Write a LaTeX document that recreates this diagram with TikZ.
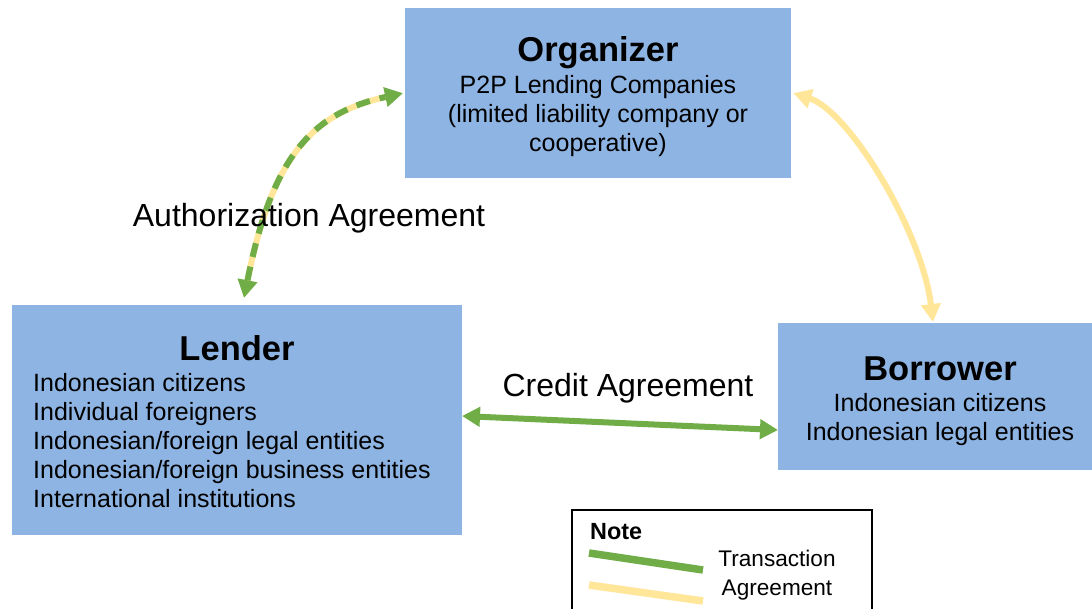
\documentclass[tikz,border=0pt]{standalone}
\usepackage{fontspec}
\setmainfont{Liberation Sans}
\usetikzlibrary{arrows.meta,calc}
\definecolor{boxblue}{HTML}{8EB4E3}
\definecolor{agreen}{HTML}{70AD47}
\definecolor{ayellow}{HTML}{FFE699}
\tikzset{
  gtip/.tip={Triangle[length=18pt,width=19pt,color=agreen]},
  ytip/.tip={Triangle[length=18pt,width=19pt,color=ayellow]}}
\begin{document}
\begin{tikzpicture}[x=1pt,y=-1pt,
  party/.style={fill=boxblue,inner sep=0pt,anchor=north west},
  title/.style={font=\bfseries\fontsize{34.5}{40}\selectfont,inner sep=0pt},
  body/.style={font=\fontsize{25}{29}\selectfont,inner sep=0pt},
  label/.style={font=\fontsize{32}{38}\selectfont,inner sep=0pt},
  link/.style={line width=6pt},
  legendline/.style={line width=7.5pt}]
\useasboundingbox (0,0) rectangle (1092,609);
\fill[white] (0,0) rectangle (1092,609);

% parties
\node[party,minimum width=386pt,minimum height=170pt] (org) at (405,8) {};
\node[party,minimum width=450pt,minimum height=230pt] (lender) at (12,305) {};
\node[party,minimum width=320pt,minimum height=147pt] (borrower) at (778,323) {};

\node[title] (orgT) at (598,53) {Organizer};
\node[body,align=center] (orgB) at (598,116) {P2P Lending Companies\\(limited liability company or\\cooperative)};

\node[title] (lenT) at (237,348) {Lender};
\node[body,align=left,anchor=west] (lenB) at (33,441) {Indonesian citizens\\Individual foreigners\\Indonesian/foreign legal entities\\Indonesian/foreign business entities\\International institutions};

\node[title] (borT) at (940,369) {Borrower};
\node[body,align=center] (borB) at (940,420) {Indonesian citizens\\Indonesian legal entities};

% connector end points on the box edges
\coordinate (authL) at ($(lender.north west)+(232,-7)$);
\coordinate (authO) at ($(org.west)+(-2,0)$);
\coordinate (agrO) at ($(org.east)+(2,0)$);
\coordinate (agrB) at ($(borrower.north west)+(155,-1)$);
\coordinate (credL) at ($(lender.north west)+(450,111)$);
\coordinate (credB) at ($(borrower.north west)+(0,107)$);

% authorization agreement: yellow base with green dashes
\draw[link,ayellow,gtip-gtip]
  (authL) .. controls (272,157) and (312,113) .. (authO);
\draw[link,agreen,dash pattern=on 14pt off 10pt,shorten <=18pt,shorten >=18pt]
  (authL) .. controls (272,157) and (312,113) .. (authO);
\node[label] (authLbl) at (309,218) {Authorization Agreement};

% organizer -- borrower agreement
\draw[link,ayellow,ytip-ytip]
  (agrO) .. controls (849,111) and (922,231) .. (agrB);

% credit agreement
\draw[link,agreen,gtip-gtip] (credL) -- (credB);
\node[label] (credLbl) at (628,388) {Credit Agreement};

% legend
\draw[line width=2pt] (572,625) -- (572,510) -- (872,510) -- (872,625);
\node[font=\bfseries\fontsize{23.4}{28}\selectfont,inner sep=0pt,anchor=west] (noteT) at (590,532) {Note};
\coordinate (gA) at (589,553);
\coordinate (gB) at (703,570);
\coordinate (yA) at (589,585);
\coordinate (yB) at (703,601);
\draw[legendline,agreen] (gA) -- (gB);
\draw[legendline,ayellow] (yA) -- (yB);
\node[font=\fontsize{22.6}{29}\selectfont,inner sep=0pt,align=center] (noteB) at (777,575) {Transaction\\Agreement};
\end{tikzpicture}
\end{document}
